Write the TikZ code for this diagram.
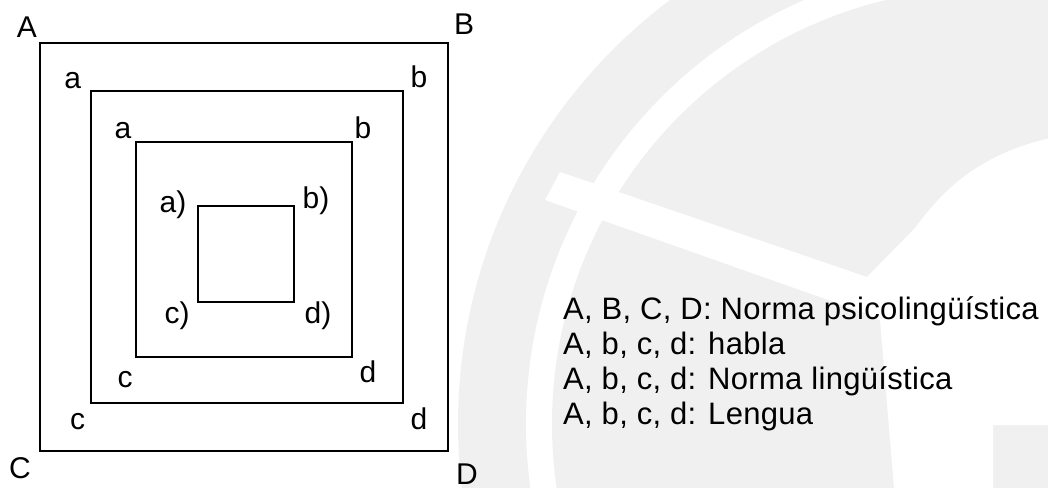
\documentclass[tikz,border=0pt]{standalone}
\usepackage{fontspec}
\setmainfont{Liberation Sans}
\newfontfamily\legendfont[LetterSpace=1.0]{Liberation Sans}
\definecolor{wmgray}{HTML}{F0F0F0}
\tikzset{
  frame/.style={draw=black, line width=2pt},
  corner/.style={font=\fontsize{30pt}{32pt}\selectfont, inner sep=0pt, anchor=base},
  legend/.style={font=\legendfont\fontsize{31pt}{33pt}\selectfont, inner sep=0pt, anchor=base west}
}
\begin{document}
\begin{tikzpicture}[x=1pt,y=-1pt]
\useasboundingbox (0,0) rectangle (1048,487);

% faint emblem in the background
\begin{scope}
  \clip (0,0) rectangle (1048,487);
  \fill[wmgray] (988,424) circle[radius=530pt];
  \fill[white] (988,424) circle[radius=462pt];
  \fill[wmgray] (988,424) circle[radius=436pt];
  \fill[white] (560,172) -- (867,277) -- (915,228)
    .. controls (950,180) and (990,150) .. (1060,136)
    -- (1060,425) -- (993,425) -- (993,500) -- (895,500)
    -- (880,320) -- (868,314) -- (545,200) -- cycle;
\end{scope}

% nested squares
\draw[frame] (40,43) rectangle (448,451);
\draw[frame] (91,91) rectangle (403,403);
\draw[frame] (136,142) rectangle (352,357);
\draw[frame] (198,206) rectangle (294,302);

% outer corner letters
\node[corner] (lA) at (27,37.3) {A};
\node[corner] (lB) at (464,35) {B};
\node[corner] (lC) at (20,478) {C};
\node[corner] (lD) at (467,484) {D};

% second square
\node[corner] (la1) at (72.7,88.3) {a};
\node[corner] (lb1) at (419,87.3) {b};
\node[corner] (lc1) at (77.7,429) {c};
\node[corner] (ld1) at (419,429) {d};

% third square
\node[corner] (la2) at (123,138) {a};
\node[corner] (lb2) at (363,138) {b};
\node[corner] (lc2) at (125,387) {c};
\node[corner] (ld2) at (368,382) {d};

% innermost square
\node[corner] (la3) at (173,212) {a)};
\node[corner] (lb3) at (316,208) {b)};
\node[corner] (lc3) at (177,323) {c)};
\node[corner] (ld3) at (318,323) {d)};

% key
\node[legend] (leg1) at (563,319.3) {A, B, C, D: Norma psicolingüística};
\node[legend] (leg2) at (563,354) {A, b, c, d: habla};
\node[legend] (leg3) at (563,389) {A, b, c, d: Norma lingüística};
\node[legend] (leg4) at (563,424) {A, b, c, d: Lengua};
\end{tikzpicture}
\end{document}
